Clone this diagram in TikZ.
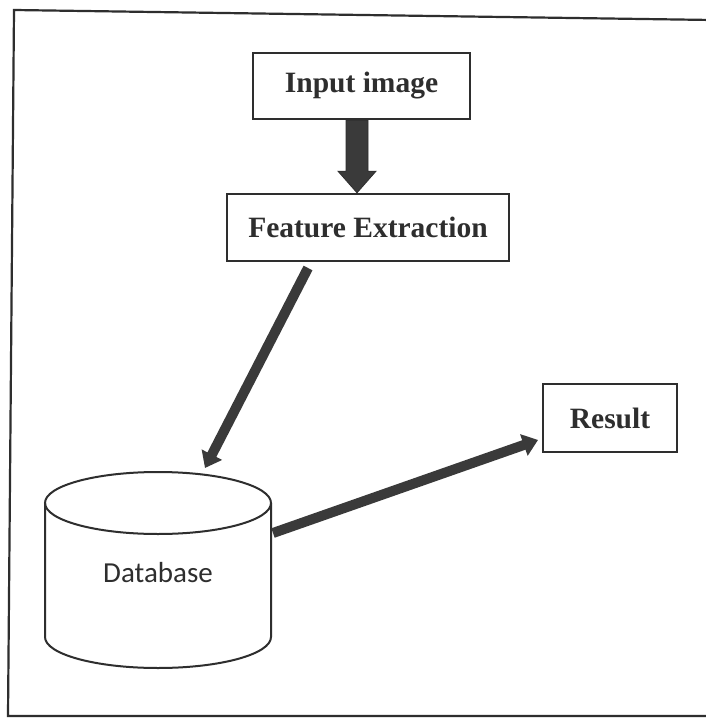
\documentclass[tikz,border=0pt]{standalone}
\usepackage{fontspec}
\setmainfont{Liberation Serif}
\newfontfamily\dbfont{Carlito}
\usetikzlibrary{arrows.meta}
\definecolor{ink}{HTML}{2E2E2E}
\definecolor{shaft}{HTML}{3A3A3A}
\tikzset{
  stage/.style={draw=ink, line width=2.4pt, rectangle, inner sep=0pt,
    font=\fontsize{29.5}{33}\selectfont\bfseries, text=ink},
  fat/.style={draw=shaft, line width=10pt,
    -{Triangle[length=15pt,width=22pt]}},
  outline/.style={draw=ink, line width=2pt},
}
\begin{document}
\begin{tikzpicture}[x=1pt,y=-1pt]
\useasboundingbox (0,0) rectangle (705,719);
\fill[white] (0,0) rectangle (705,719);

% outer frame (right side runs off the page)
\draw[outline, line width=2.2pt] (712,20) -- (14,10) -- (8,716) -- (712,716);

% process boxes
\node[stage, minimum width=217pt, minimum height=66pt] (inp) at (361.5,86) {Input image};
\node[stage, minimum width=282pt, minimum height=67pt] (fe) at (368,227.5) {Feature Extraction};
\node[stage, minimum width=134pt, minimum height=68pt] (res) at (610,418) {Result};

% database cylinder
\coordinate (dbc) at (158,503);
\coordinate (dbb) at (158,637);
\draw[outline] ([xshift=-113pt]dbc) -- ([xshift=-113pt]dbb)
  arc[start angle=180, end angle=360, x radius=113pt, y radius=31pt]
  -- ([xshift=113pt]dbc);
\draw[outline] (dbc) ellipse[x radius=113pt, y radius=31pt];
\node[font=\dbfont\fontsize{29}{33}\selectfont, text=ink] (db) at (158,573) {Database};

% block arrow from the input box down to the feature box
\coordinate (top) at ([xshift=-4.5pt]inp.south);
\coordinate (tip) at ([xshift=-11pt]fe.north);
\fill[shaft, draw=ink, line width=0.8pt]
  ([xshift=-11pt]top) -- ([xshift=-11pt,yshift=-51pt]top)
  -- ([xshift=-19pt,yshift=-51pt]top) -- (tip)
  -- ([xshift=19pt,yshift=-51pt]top) -- ([xshift=11pt,yshift=-51pt]top)
  -- ([xshift=11pt]top) -- cycle;

% diagonal connectors
\coordinate (feout) at (308,268);
\coordinate (dbin) at (205,468);
\coordinate (dbout) at (273,533);
\coordinate (resin) at (538,440);
\draw[fat] (feout) -- (dbin);
\draw[fat] (dbout) -- (resin);
\end{tikzpicture}
\end{document}
